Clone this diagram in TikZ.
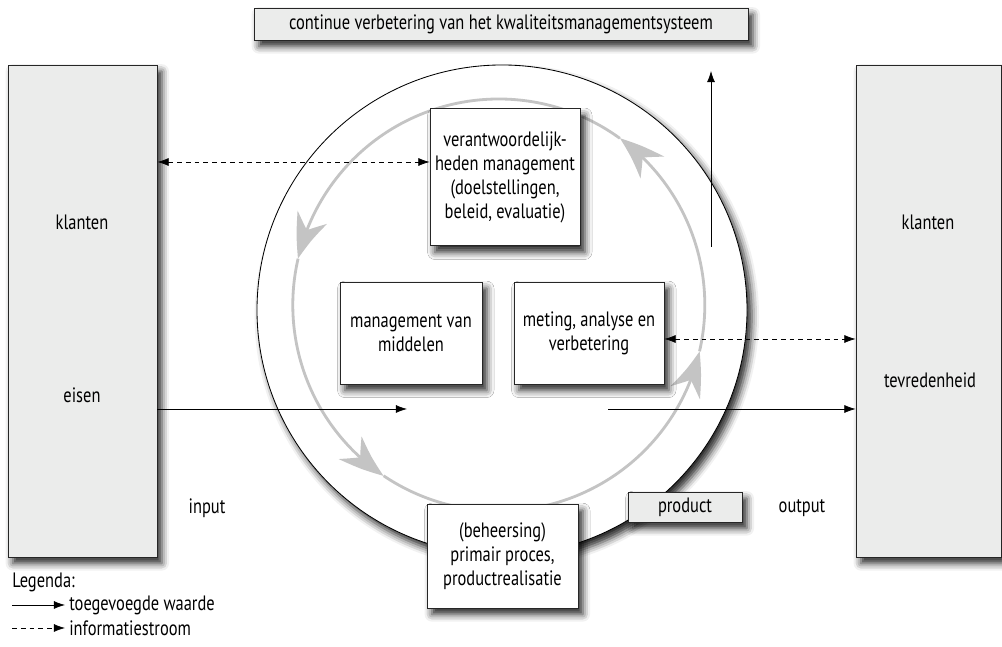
\documentclass[tikz,border=0pt]{standalone}
\usepackage{fontspec}
\setmainfont{PT Sans}[FakeStretch=0.79]
\usetikzlibrary{arrows.meta,bending,shadows.blur,positioning}

\definecolor{vak}{HTML}{EBECEB}
\definecolor{ring}{HTML}{C4C4C4}

\tikzset{
  schaduw/.style={blur shadow={shadow xshift=1.2mm, shadow yshift=-1.6mm, shadow blur radius=1.8mm, shadow opacity=85}},
  box/.style={draw=black!85, line width=0.6pt, fill=white, align=center, inner sep=0pt, schaduw},
  greybox/.style={box, fill=vak},
  flow/.style={-{Latex[length=2.8mm,width=2mm]}, line width=0.5pt},
  info/.style={{Latex[length=2.8mm,width=2mm]}-{Latex[length=2.8mm,width=2mm]}, line width=0.5pt, dash pattern=on 1.2mm off 1mm},
  cyclus/.style={draw=ring, line width=2pt, -{Stealth[length=11mm,width=8mm,inset=3.5mm,bend]}}
}

\begin{document}
\begin{tikzpicture}[font=\fontsize{14.8}{17}\selectfont]
  \useasboundingbox (0,0) rectangle (25.05,16.175);

  % kader bovenaan
  \node[greybox, minimum width=12.35cm, minimum height=0.8cm] (verbetering) at (12.525,15.575)
    {continue verbetering van het kwaliteitsmanagementsysteem};

  % klanten links en rechts
  \node[greybox, minimum width=3.725cm, minimum height=12.3cm] (links) at (2.0625,8.4) {};
  \node[greybox, minimum width=3.625cm, minimum height=12.3cm] (rechts) at (23.2125,8.4) {};
  \node (klantL) at (2.05,10.625) {klanten};
  \node (eisen) at (2.05,6.3) {eisen};
  \node (klantR) at (23.2,10.625) {klanten};
  \node (tevreden) at (23.25,6.675) {tevredenheid};

  % de kring
  \node[circle, draw, line width=0.6pt, fill=white, minimum size=12.25cm, inner sep=0pt, schaduw] (kring) at (12.55,8.425) {};
  \coordinate (midden) at (12.47,8.55);
  \draw[cyclus] (midden) ++(54:5.15) arc[start angle=54, end angle=167, radius=5.15];
  \draw[cyclus] (midden) ++(167:5.15) arc[start angle=167, end angle=236, radius=5.15];
  \draw[cyclus] (midden) ++(236:5.15) arc[start angle=236, end angle=347, radius=5.15];
  \draw[cyclus] (midden) ++(347:5.15) arc[start angle=347, end angle=414, radius=5.15];

  \node (input) at (5.175,3.475) {input};
  \node (output) at (20.05,3.475) {output};

  % pijlen
  \coordinate (infoL) at (0,12.125);
  \coordinate (infoR) at (0,7.7);
  \coordinate (inEnd) at (10.175,5.95);
  \coordinate (outStart) at (15.2,5.95);
  \coordinate (upStart) at (17.775,10.0);
  \coordinate (upEnd) at (17.775,14.4);
  \draw[flow] (links.east |- inEnd) -- (inEnd);
  \draw[flow] (outStart) -- (rechts.west |- outStart);
  \draw[flow] (upStart) -- (upEnd);

  % processen
  \node[box, minimum width=3.75cm, minimum height=3.425cm] (verant) at (12.625,11.74)
    {verantwoordelijk-\\heden management\\(doelstellingen,\\beleid, evaluatie)};
  \node[box, minimum width=3.55cm, minimum height=2.55cm] (middelen) at (10.275,7.85)
    {management van\\middelen};
  \node[box, minimum width=3.75cm, minimum height=2.55cm] (meting) at (14.725,7.85)
    {meting, analyse en\\verbetering};
  \node[box, minimum width=3.775cm, minimum height=2.6cm] (beheersing) at (12.5625,2.275)
    {(beheersing)\\primair proces,\\productrealisatie};
  \node[greybox, minimum width=2.85cm, minimum height=0.75cm] (product) at (17.125,3.5) {product};

  \draw[info] (links.east |- infoL) -- (verant.west |- infoL);
  \draw[info] (meting.east |- infoR) -- (rechts.west |- infoR);

  % legenda
  \node[anchor=west, inner sep=0pt] (legenda) at (0.3,1.625) {Legenda:};
  \node[anchor=west, inner sep=0pt] (waarde) at (1.725,1.05) {toegevoegde waarde};
  \node[anchor=west, inner sep=0pt] (stroom) at (1.725,0.475) {informatiestroom};
  \coordinate (lg1) at (0.3,1.05);
  \coordinate (lg2) at (0.3,0.475);
  \draw[flow] (lg1) -- ([xshift=-1mm]waarde.west);
  \draw[flow, dash pattern=on 1.2mm off 1mm] (lg2) -- ([xshift=-1mm]stroom.west);
\end{tikzpicture}
\end{document}
